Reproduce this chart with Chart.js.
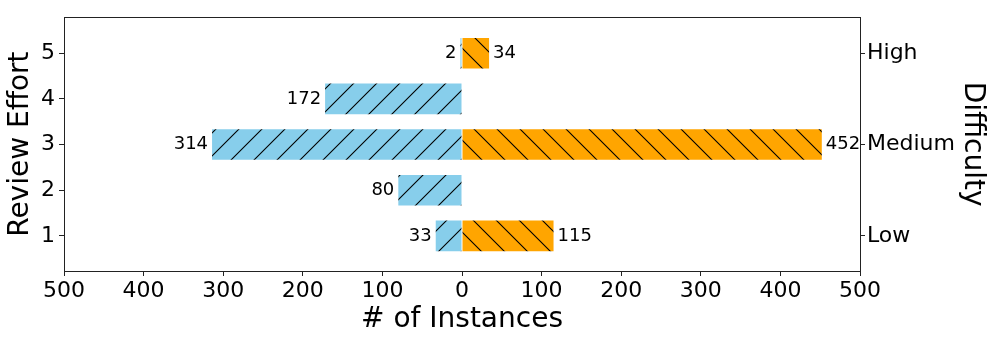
<!DOCTYPE html>
<html>
<head>
<meta charset="utf-8">
<script src="https://cdn.jsdelivr.net/npm/chart.js@4.4.1/dist/chart.umd.min.js"></script>
<style>
  html, body { margin: 0; padding: 0; background: #fff; }
  canvas { display: block; }
</style>
</head>
<body>
<canvas id="effortChart" width="997" height="344"></canvas>
<script>
// Review effort vs. difficulty (mirrored horizontal bars)

const effortLevels = [1, 2, 3, 4, 5];
const effortCounts = [33, 80, 314, 172, 2];       // left side (blue)
const difficultyCounts = [115, 0, 452, 0, 34];    // right side (orange)
const difficultyTicks = [1, 3, 5];
const difficultyLabels = ['Low', 'Medium', 'High'];
const xTicks = [-500, -400, -300, -200, -100, 0, 100, 200, 300, 400, 500];

const FONT = "'DejaVu Sans', sans-serif";

// hatch pattern like matplotlib's '/' and '\'
function makeHatch(bg, forward) {
    const s = 23;
    const c = document.createElement('canvas');
    c.width = s;
    c.height = s;
    const g = c.getContext('2d');
    g.fillStyle = bg;
    g.fillRect(0, 0, s, s);
    g.strokeStyle = '#000';
    g.lineWidth = 1.1;
    g.beginPath();
    if (forward) {
        g.moveTo(0, s); g.lineTo(s, 0);
        g.moveTo(-2, 2); g.lineTo(2, -2);
        g.moveTo(s - 2, s + 2); g.lineTo(s + 2, s - 2);
    } else {
        g.moveTo(0, 0); g.lineTo(s, s);
        g.moveTo(-2, s - 2); g.lineTo(2, s + 2);
        g.moveTo(s - 2, -2); g.lineTo(s + 2, 2);
    }
    g.stroke();
    return g.createPattern(c, 'repeat');
}

const ctx = document.getElementById('effortChart').getContext('2d');

const valueLabels = {
    id: 'valueLabels',
    afterDatasetsDraw(chart) {
        const c = chart.ctx;
        c.save();
        c.font = '18px ' + FONT;
        c.fillStyle = '#000';
        c.textBaseline = 'middle';
        chart.data.datasets.forEach((ds, i) => {
            chart.getDatasetMeta(i).data.forEach((bar, j) => {
                const v = ds.data[j].x;
                if (!v) return;
                if (v < 0) {
                    c.textAlign = 'right';
                    c.fillText(String(-v), bar.x - 4, bar.y);
                } else {
                    c.textAlign = 'left';
                    c.fillText(String(v), bar.x + 4, bar.y);
                }
            });
        });
        c.restore();
    }
};

const frame = {
    id: 'frame',
    afterDraw(chart) {
        const a = chart.chartArea;
        const c = chart.ctx;
        c.save();
        c.strokeStyle = '#222';
        c.lineWidth = 1;
        c.strokeRect(Math.round(a.left) + 0.5, Math.round(a.top) + 0.5,
            Math.round(a.right - a.left), Math.round(a.bottom - a.top));
        c.restore();
    }
};

new Chart(ctx, {
    type: 'bar',
    data: {
        datasets: [{
            label: 'Review Effort',
            data: effortLevels.map((e, i) => ({ x: -effortCounts[i], y: e })),
            backgroundColor: makeHatch('#87CEEB', true),
            borderWidth: 0,
            barPercentage: 0.67,
            categoryPercentage: 1
        }, {
            label: 'Difficulty',
            data: effortLevels.map((e, i) => ({ x: difficultyCounts[i], y: e })),
            backgroundColor: makeHatch('#FFA500', false),
            borderWidth: 0,
            barPercentage: 0.67,
            categoryPercentage: 1
        }]
    },
    options: {
        indexAxis: 'y',
        responsive: false,
        animation: false,
        layout: { padding: { top: 10, left: 0, right: 0, bottom: 0 } },
        plugins: {
            legend: { display: false },
            tooltip: { enabled: false }
        },
        scales: {
            x: {
                type: 'linear',
                stacked: true,
                offset: false,
                min: -500,
                max: 500,
                afterBuildTicks: s => { s.ticks = xTicks.map(v => ({ value: v })); },
                afterFit: s => { s.height = 73; },
                border: { display: false },
                grid: { drawOnChartArea: false, offset: false, tickLength: 5, tickColor: '#222' },
                ticks: {
                    color: '#000',
                    font: { family: FONT, size: 22 },
                    padding: 2,
                    maxRotation: 0,
                    callback: v => Math.abs(v)
                },
                title: {
                    display: true,
                    text: '# of Instances',
                    color: '#000',
                    font: { family: FONT, size: 28 },
                    padding: { top: 0, bottom: 7 }
                }
            },
            y: {
                type: 'linear',
                stacked: true,
                offset: false,
                position: 'left',
                min: 0.23,
                max: 5.79,
                afterBuildTicks: s => { s.ticks = effortLevels.map(v => ({ value: v })); },
                afterFit: s => { s.width = 64; },
                border: { display: false },
                grid: { drawOnChartArea: false, offset: false, tickLength: 5, tickColor: '#222' },
                ticks: {
                    color: '#000',
                    font: { family: FONT, size: 22 },
                    padding: 4
                },
                title: {
                    display: true,
                    text: 'Review Effort',
                    color: '#000',
                    font: { family: FONT, size: 28 },
                    padding: { top: 4, bottom: 0 }
                }
            },
            yRight: {
                type: 'linear',
                axis: 'y',
                offset: false,
                position: 'right',
                min: 0.23,
                max: 5.79,
                afterBuildTicks: s => { s.ticks = difficultyTicks.map(v => ({ value: v })); },
                afterFit: s => { s.width = 137; },
                border: { display: false },
                grid: { drawOnChartArea: false, offset: false, tickLength: 5, tickColor: '#222' },
                ticks: {
                    color: '#000',
                    font: { family: FONT, size: 22 },
                    padding: 2,
                    callback: v => difficultyLabels[difficultyTicks.indexOf(v)]
                },
                title: {
                    display: true,
                    text: 'Difficulty',
                    color: '#000',
                    font: { family: FONT, size: 28 },
                    padding: { top: 8, bottom: 0 }
                }
            }
        }
    },
    plugins: [valueLabels, frame]
});
</script>
</body>
</html>
